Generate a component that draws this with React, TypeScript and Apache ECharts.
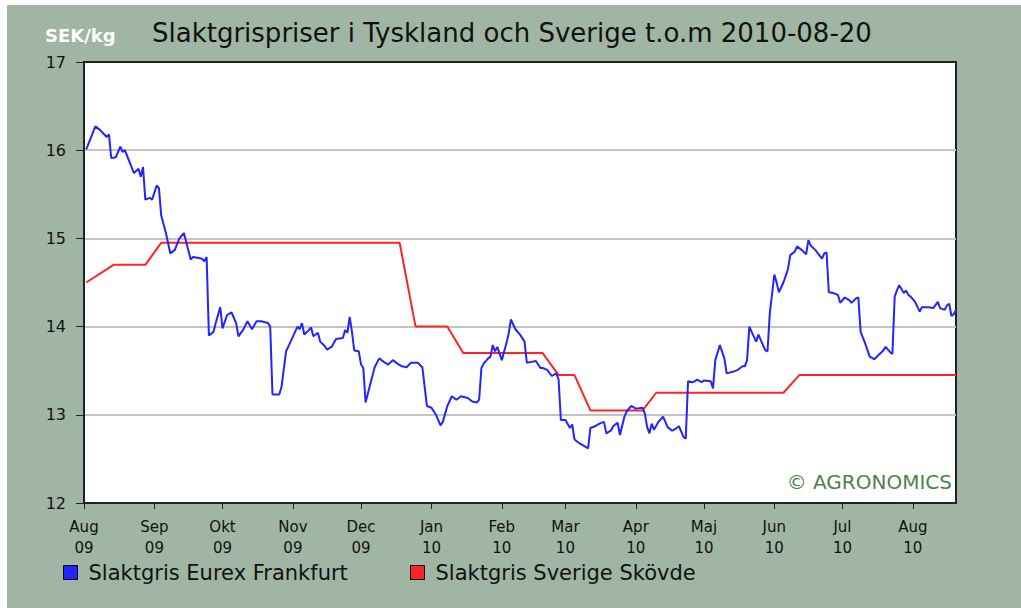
import React, { useEffect, useRef } from "react";
import * as echarts from "echarts";

const TITLE = "Slaktgrispriser i Tyskland och Sverige t.o.m 2010-08-20";
const UNIT = "SEK/kg";
const COPYRIGHT = "© AGRONOMICS";
const SERIES_NAMES = ["Slaktgris Eurex Frankfurt", "Slaktgris Sverige Skövde"];
const MONTH_NAMES = ["Jan", "Feb", "Mar", "Apr", "Maj", "Jun", "Jul", "Aug", "Sep", "Okt", "Nov", "Dec"];
const MONTH_TICKS = [
  "2009-08-01", "2009-09-01", "2009-10-01", "2009-11-01", "2009-12-01", "2010-01-01", "2010-02-01",
  "2010-03-01", "2010-04-01", "2010-05-01", "2010-06-01", "2010-07-01", "2010-08-01",
];
const X_MIN = "2009-08-01";
const X_MAX = "2010-08-20";
const Y_MIN = 12;
const Y_MAX = 17;
const Y_STEP = 1;

const sverigeSkovde: [string, number][] = [
  ["2009-08-02", 14.5], ["2009-08-14", 14.7], ["2009-08-28", 14.7], ["2009-09-04", 14.95],
  ["2009-12-18", 14.95], ["2009-12-25", 14.0], ["2010-01-08", 14.0], ["2010-01-15", 13.7],
  ["2010-02-19", 13.7], ["2010-02-26", 13.45], ["2010-03-05", 13.45], ["2010-03-12", 13.05],
  ["2010-04-04", 13.05], ["2010-04-10", 13.25], ["2010-06-05", 13.25], ["2010-06-12", 13.45],
  ["2010-08-20", 13.45],
];

const eurexFrankfurt: [string, number][] = [
  ["2009-08-02", 16.01], ["2009-08-06", 16.27], ["2009-08-08", 16.23], ["2009-08-11", 16.15],
  ["2009-08-12", 16.18], ["2009-08-13", 15.91], ["2009-08-15", 15.92], ["2009-08-17", 16.04],
  ["2009-08-18", 15.98], ["2009-08-19", 16.0], ["2009-08-21", 15.87], ["2009-08-23", 15.74],
  ["2009-08-25", 15.79], ["2009-08-26", 15.70], ["2009-08-27", 15.81], ["2009-08-28", 15.44],
  ["2009-08-30", 15.46], ["2009-08-31", 15.44], ["2009-09-02", 15.60], ["2009-09-03", 15.57],
  ["2009-09-04", 15.26], ["2009-09-06", 15.07], ["2009-09-08", 14.83], ["2009-09-10", 14.87],
  ["2009-09-12", 15.0], ["2009-09-14", 15.06], ["2009-09-15", 14.96], ["2009-09-17", 14.76],
  ["2009-09-18", 14.79], ["2009-09-20", 14.78], ["2009-09-22", 14.77], ["2009-09-23", 14.74],
  ["2009-09-24", 14.79], ["2009-09-25", 13.90], ["2009-09-27", 13.94], ["2009-09-28", 14.04],
  ["2009-09-30", 14.22], ["2009-10-01", 13.98], ["2009-10-03", 14.13], ["2009-10-05", 14.16],
  ["2009-10-07", 14.04], ["2009-10-08", 13.89], ["2009-10-10", 13.96], ["2009-10-12", 14.06],
  ["2009-10-14", 13.97], ["2009-10-16", 14.06], ["2009-10-18", 14.06], ["2009-10-21", 14.04],
  ["2009-10-22", 14.00], ["2009-10-23", 13.23], ["2009-10-26", 13.23], ["2009-10-27", 13.32],
  ["2009-10-29", 13.72], ["2009-10-31", 13.83], ["2009-11-03", 14.00], ["2009-11-04", 13.97],
  ["2009-11-05", 14.04], ["2009-11-06", 13.91], ["2009-11-08", 13.96], ["2009-11-09", 13.99],
  ["2009-11-10", 13.89], ["2009-11-12", 13.93], ["2009-11-13", 13.83], ["2009-11-15", 13.78],
  ["2009-11-16", 13.74], ["2009-11-18", 13.77], ["2009-11-20", 13.86], ["2009-11-23", 13.87],
  ["2009-11-24", 13.96], ["2009-11-25", 13.93], ["2009-11-26", 14.11], ["2009-11-27", 13.94],
  ["2009-11-28", 13.73], ["2009-11-30", 13.72], ["2009-12-01", 13.57], ["2009-12-02", 13.53],
  ["2009-12-03", 13.14], ["2009-12-05", 13.34], ["2009-12-07", 13.54], ["2009-12-09", 13.64],
  ["2009-12-11", 13.60], ["2009-12-13", 13.57], ["2009-12-15", 13.62], ["2009-12-17", 13.58],
  ["2009-12-19", 13.55], ["2009-12-21", 13.54], ["2009-12-23", 13.59], ["2009-12-26", 13.59],
  ["2009-12-28", 13.54], ["2009-12-30", 13.10], ["2010-01-01", 13.08], ["2010-01-03", 13.00],
  ["2010-01-05", 12.88], ["2010-01-06", 12.92], ["2010-01-08", 13.10], ["2010-01-10", 13.21],
  ["2010-01-12", 13.17], ["2010-01-14", 13.21], ["2010-01-17", 13.19], ["2010-01-19", 13.15],
  ["2010-01-21", 13.14], ["2010-01-22", 13.17], ["2010-01-23", 13.53], ["2010-01-24", 13.58],
  ["2010-01-26", 13.64], ["2010-01-27", 13.66], ["2010-01-28", 13.79], ["2010-01-29", 13.72],
  ["2010-01-30", 13.77], ["2010-02-01", 13.62], ["2010-02-03", 13.81], ["2010-02-04", 13.92],
  ["2010-02-05", 14.08], ["2010-02-07", 13.97], ["2010-02-09", 13.91], ["2010-02-11", 13.83],
  ["2010-02-12", 13.59], ["2010-02-14", 13.60], ["2010-02-16", 13.61], ["2010-02-18", 13.53],
  ["2010-02-19", 13.53], ["2010-02-21", 13.51], ["2010-02-23", 13.44], ["2010-02-25", 13.47],
  ["2010-02-26", 13.40], ["2010-02-27", 12.94], ["2010-03-01", 12.94], ["2010-03-03", 12.85],
  ["2010-03-04", 12.89], ["2010-03-05", 12.72], ["2010-03-07", 12.68], ["2010-03-09", 12.65],
  ["2010-03-11", 12.62], ["2010-03-12", 12.85], ["2010-03-14", 12.87], ["2010-03-16", 12.90],
  ["2010-03-18", 12.92], ["2010-03-19", 12.79], ["2010-03-21", 12.82], ["2010-03-22", 12.87],
  ["2010-03-24", 12.91], ["2010-03-25", 12.77], ["2010-03-27", 12.98], ["2010-03-28", 13.04],
  ["2010-03-30", 13.10], ["2010-04-01", 13.07], ["2010-04-04", 13.08], ["2010-04-05", 13.01],
  ["2010-04-06", 12.86], ["2010-04-07", 12.79], ["2010-04-08", 12.90], ["2010-04-09", 12.83],
  ["2010-04-11", 12.92], ["2010-04-13", 12.98], ["2010-04-15", 12.86], ["2010-04-17", 12.82],
  ["2010-04-19", 12.85], ["2010-04-20", 12.87], ["2010-04-22", 12.75], ["2010-04-23", 12.73],
  ["2010-04-24", 13.38], ["2010-04-26", 13.37], ["2010-04-27", 13.38], ["2010-04-28", 13.40],
  ["2010-04-30", 13.37], ["2010-05-01", 13.39], ["2010-05-04", 13.38], ["2010-05-05", 13.30],
  ["2010-05-06", 13.62], ["2010-05-08", 13.79], ["2010-05-10", 13.64], ["2010-05-11", 13.47],
  ["2010-05-14", 13.49], ["2010-05-16", 13.51], ["2010-05-18", 13.55], ["2010-05-19", 13.55],
  ["2010-05-20", 13.62], ["2010-05-21", 14.00], ["2010-05-22", 13.94], ["2010-05-24", 13.83],
  ["2010-05-25", 13.91], ["2010-05-26", 13.85], ["2010-05-28", 13.73], ["2010-05-29", 13.72],
  ["2010-05-30", 14.15], ["2010-06-01", 14.59], ["2010-06-02", 14.50], ["2010-06-03", 14.39],
  ["2010-06-05", 14.50], ["2010-06-07", 14.65], ["2010-06-08", 14.81], ["2010-06-10", 14.85],
  ["2010-06-11", 14.91], ["2010-06-13", 14.87], ["2010-06-15", 14.82], ["2010-06-16", 14.98],
  ["2010-06-17", 14.92], ["2010-06-19", 14.87], ["2010-06-22", 14.77], ["2010-06-23", 14.83],
  ["2010-06-24", 14.84], ["2010-06-25", 14.39], ["2010-06-27", 14.38], ["2010-06-29", 14.36],
  ["2010-06-30", 14.27], ["2010-07-02", 14.33], ["2010-07-04", 14.30], ["2010-07-05", 14.27],
  ["2010-07-07", 14.32], ["2010-07-08", 14.33], ["2010-07-09", 13.94], ["2010-07-11", 13.81],
  ["2010-07-13", 13.66], ["2010-07-15", 13.63], ["2010-07-17", 13.68], ["2010-07-19", 13.73],
  ["2010-07-20", 13.77], ["2010-07-22", 13.71], ["2010-07-23", 13.69], ["2010-07-24", 14.34],
  ["2010-07-25", 14.41], ["2010-07-26", 14.47], ["2010-07-28", 14.38], ["2010-07-29", 14.41],
  ["2010-07-30", 14.36], ["2010-07-31", 14.34], ["2010-08-02", 14.28], ["2010-08-04", 14.17],
  ["2010-08-05", 14.22], ["2010-08-08", 14.22], ["2010-08-10", 14.21], ["2010-08-12", 14.28],
  ["2010-08-13", 14.21], ["2010-08-15", 14.19], ["2010-08-16", 14.24], ["2010-08-17", 14.26],
  ["2010-08-18", 14.12], ["2010-08-19", 14.14], ["2010-08-20", 14.19],
];

const FONT = '"DejaVu Sans", Verdana, sans-serif';
const BG = "#A1B5A4";
const BLUE = "#2424ff";
const RED = "#ff2424";

function ts(s: string): number {
  const [y, m, d] = s.split("-").map(Number);
  return Date.UTC(y, m - 1, d);
}

export default function App() {
  const ref = useRef<HTMLDivElement>(null);

  useEffect(() => {
    document.body.style.margin = "0";
    if (!ref.current) return;
    const chart = echarts.init(ref.current, null, { renderer: "svg" });
    const tickValues = MONTH_TICKS.map(ts);

    const legendBase = {
      icon: "rect",
      itemWidth: 14,
      itemHeight: 14,
      itemGap: 0,
      padding: 0,
      selectedMode: false,
      orient: "horizontal",
      itemStyle: { borderColor: "#000", borderWidth: 1 },
      textStyle: { fontSize: 21, lineHeight: 20, color: "#111", fontFamily: FONT, padding: [0, 0, 0, 6] },
    };

    chart.setOption({
      animation: false,
      backgroundColor: BG,
      textStyle: { fontFamily: FONT },
      grid: {
        show: true,
        left: 77,
        top: 57,
        width: 872,
        height: 441,
        backgroundColor: "#ffffff",
        borderColor: "#222",
        borderWidth: 2,
        containLabel: false,
      },
      legend: [
        { ...legendBase, data: [SERIES_NAMES[0]], left: 56, top: 557 },
        { ...legendBase, data: [SERIES_NAMES[1]], left: 403, top: 557 },
      ],
      graphic: [
        {
          type: "text",
          x: 38,
          y: 30,
          style: { text: UNIT, fill: "#ffffff", fontSize: 18, fontWeight: "bold", fontFamily: FONT, verticalAlign: "middle" },
        },
        {
          type: "text",
          x: 145,
          y: 28,
          style: { text: TITLE, fill: "#111", fontSize: 26, fontFamily: FONT, verticalAlign: "middle" },
        },
        {
          type: "text",
          x: 945,
          y: 477,
          z: 100,
          style: { text: COPYRIGHT, fill: "#4f7f4f", fontSize: 20, fontFamily: FONT, align: "right", verticalAlign: "middle" },
        },
      ],
      xAxis: {
        type: "value",
        min: ts(X_MIN),
        max: ts(X_MAX),
        axisLine: { show: true, lineStyle: { color: "#222", width: 2 } },
        axisTick: { show: true, customValues: tickValues, length: 6, lineStyle: { color: "#222", width: 1 } },
        axisLabel: {
          customValues: tickValues,
          formatter: (v: number) => {
            const d = new Date(v);
            return MONTH_NAMES[d.getUTCMonth()] + "\n" + String(d.getUTCFullYear()).slice(2);
          },
          fontSize: 15,
          lineHeight: 21,
          color: "#111",
          margin: 13,
          fontFamily: FONT,
          hideOverlap: false,
        },
        splitLine: { show: false },
      },
      yAxis: {
        type: "value",
        min: Y_MIN,
        max: Y_MAX,
        interval: Y_STEP,
        axisLine: { show: true, lineStyle: { color: "#222", width: 2 } },
        axisTick: { show: true, length: 8, lineStyle: { color: "#222", width: 1 } },
        axisLabel: { fontSize: 16, color: "#111", margin: 18, fontFamily: FONT },
        splitLine: { show: true, showMinLine: false, showMaxLine: false, lineStyle: { color: "#c4c4c4", width: 2 } },
      },
      series: [
        {
          name: SERIES_NAMES[1],
          type: "line",
          data: sverigeSkovde.map(([d, v]) => [ts(d), v]),
          showSymbol: false,
          symbol: "none",
          color: RED,
          lineStyle: { color: RED, width: 2 },
          itemStyle: { color: RED },
        },
        {
          name: SERIES_NAMES[0],
          type: "line",
          data: eurexFrankfurt.map(([d, v]) => [ts(d), v]),
          showSymbol: false,
          symbol: "none",
          color: BLUE,
          lineStyle: { color: BLUE, width: 2 },
          itemStyle: { color: BLUE },
        },
      ],
    });

    return () => chart.dispose();
  }, []);

  return (
    <div style={{ position: "relative", width: 1021, height: 608, background: "#ffffff", overflow: "hidden" }}>
      <div ref={ref} style={{ position: "absolute", left: 7, top: 5, width: 1014, height: 603 }} />
    </div>
  );
}
